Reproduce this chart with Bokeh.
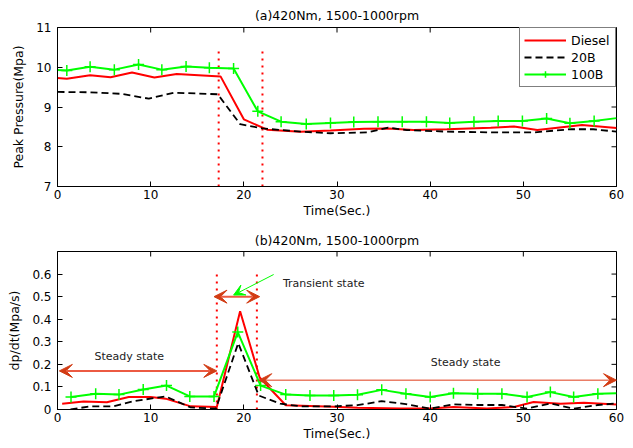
import math
from bokeh.plotting import figure
from bokeh.models import Range1d, FixedTicker, Arrow, VeeHead, Label, Legend, LegendItem
from bokeh.layouts import column
from bokeh.embed import file_html
from bokeh.resources import INLINE

FONT = "DejaVu Sans"

# ---------------- data: (a) peak pressure ----------------
t_diesel_a = [0, 1.0, 3.5, 5.7, 8.0, 10.4, 12.8, 17.5, 20.0, 22.5, 26.1, 29.3, 32.9, 35.5, 38.2,
              41.8, 46.5, 49.0, 51.5, 56.3, 60]
p_diesel_a = [9.73, 9.71, 9.80, 9.75, 9.87, 9.74, 9.83, 9.77, 8.69, 8.43, 8.38, 8.41, 8.45, 8.46, 8.42,
              8.44, 8.48, 8.51, 8.42, 8.55, 8.47]

t_20b_a = [0, 3.5, 6.9, 9.8, 12.5, 17.2, 19.6, 22.0, 26.1, 29.3, 33.2, 35.5, 37.5, 41.8, 47.2,
           51.1, 55.0, 57.5, 60]
p_20b_a = [9.38, 9.37, 9.33, 9.21, 9.36, 9.32, 8.57, 8.46, 8.38, 8.34, 8.36, 8.48, 8.42, 8.38, 8.36,
           8.36, 8.44, 8.44, 8.38]

t_100b_a = [0, 1.0, 3.5, 6.1, 8.7, 11.2, 13.8, 16.3, 18.9, 21.5, 24.0, 26.7, 29.3, 31.8, 34.4, 37.0,
            39.6, 42.1, 44.7, 47.3, 49.9, 52.5, 55.0, 57.6, 60]
p_100b_a = [9.93, 9.92, 10.01, 9.94, 10.07, 9.94, 10.02, 9.99, 9.97, 8.89, 8.63, 8.57, 8.60, 8.62, 8.63, 8.63,
            8.63, 8.60, 8.63, 8.65, 8.65, 8.71, 8.59, 8.65, 8.72]

# ---------------- data: (b) dp/dt ----------------
t_diesel_b = [0.5, 2.8, 5.3, 7.65, 10.0, 11.6, 14.3, 17.1, 19.6, 21.7, 24.5, 29.65, 32.2, 36.8, 40.0,
              42.5, 46.1, 49.0, 51.1, 54.0, 56.5, 60]
v_diesel_b = [0.026, 0.035, 0.032, 0.055, 0.055, 0.048, 0.014, 0.011, 0.435, 0.142, 0.019, 0.012, 0.008,
              0.004, 0.004, 0.011, 0.004, 0.011, 0.033, 0.026, 0.030, 0.022]

t_20b_b = [1.4, 3.5, 6.0, 8.2, 11.6, 14.3, 17.0, 19.4, 21.6, 23.9, 26.1, 29.65, 32.2, 34.8, 37.4, 40.0,
           42.5, 45.1, 47.7, 50.4, 52.9, 55.4, 58.0, 60]
v_20b_b = [0.0, 0.014, 0.014, 0.037, 0.058, 0.009, 0.004, 0.294, 0.062, 0.026, 0.014, 0.014, 0.019, 0.037,
           0.024, 0.004, 0.023, 0.020, 0.020, 0.004, 0.027, 0.004, 0.020, 0.027]

t_100b_b = [1.45, 4.1, 6.6, 9.2, 11.7, 14.2, 16.8, 19.35, 21.8, 24.5, 27.1, 29.65, 32.2, 34.8, 37.4, 40.0,
            42.5, 45.1, 47.7, 50.4, 52.9, 55.4, 58.0, 60]
v_100b_b = [0.055, 0.070, 0.066, 0.089, 0.106, 0.058, 0.058, 0.343, 0.106, 0.066, 0.062, 0.062, 0.065,
            0.087, 0.070, 0.055, 0.072, 0.070, 0.070, 0.055, 0.077, 0.055, 0.070, 0.072]

# ---------------- axes / ticks / annotations ----------------
x_ticks = [0, 10, 20, 30, 40, 50, 60]
y_ticks_a = [7, 8, 9, 10, 11]
y_ticks_b = [0, 0.1, 0.2, 0.3, 0.4, 0.5, 0.6]
x_lim = (0, 60)
y_lim_a = (7, 11)
y_lim_b = (0, 0.7)

vline_x_a = [17.3, 22.0]
vline_y_a = [7, 10.5]
vline_x_b = [17.1, 21.4]
vline_y_b = [0, 0.6]

title_a = "(a)420Nm, 1500-1000rpm"
title_b = "(b)420Nm, 1500-1000rpm"

RED = "#ff0000"
GREEN = "#00ff00"
ARROW_LINE = "#ec5a42"
ARROW_HEAD = "#d23c14"


def make_fig(height, b_top, b_bottom, title, title_standoff, yr, yticks, ylabel):
    p = figure(width=625, height=height, output_backend="svg", toolbar_location=None,
               x_range=Range1d(*x_lim), y_range=Range1d(*yr),
               min_border_left=57, min_border_right=9,
               min_border_top=b_top, min_border_bottom=b_bottom,
               title=title, background_fill_color="white", border_fill_color="white")
    p.title.text_font = FONT
    p.title.text_font_size = "12.5px"
    p.title.text_font_style = "normal"
    p.title.text_color = "black"
    p.title.align = "center"
    p.title.standoff = title_standoff
    p.grid.visible = False
    p.outline_line_color = "black"
    p.outline_line_alpha = 1.0
    p.outline_line_width = 1

    p.xaxis.ticker = FixedTicker(ticks=x_ticks)
    p.yaxis.ticker = FixedTicker(ticks=yticks)
    p.xaxis.axis_label = "Time(Sec.)"
    p.yaxis.axis_label = ylabel
    for ax in p.axis:
        ax.major_tick_in = 5
        ax.major_tick_out = 0
        ax.minor_tick_line_color = None
        ax.axis_line_color = "black"
        ax.major_tick_line_color = "black"
        ax.major_label_text_font = FONT
        ax.major_label_text_font_size = "12px"
        ax.major_label_text_color = "black"
        ax.axis_label_text_font = FONT
        ax.axis_label_text_font_size = "12.5px"
        ax.axis_label_text_font_style = "normal"
        ax.axis_label_text_color = "black"
    p.xaxis.major_label_standoff = 3
    p.xaxis.axis_label_standoff = 1
    p.yaxis.major_label_standoff = 6
    p.yaxis.axis_label_standoff = 7

    # inward ticks on the top and right edges of the box
    p.ray(x=x_ticks, y=[yr[1]] * len(x_ticks), length=5, length_units="screen",
          angle=-math.pi / 2, line_color="black", line_width=1)
    p.ray(x=[x_lim[1]] * len(yticks), y=yticks, length=5, length_units="screen",
          angle=math.pi, line_color="black", line_width=1)
    return p


# ---------------- figure (a) ----------------
pa = make_fig(226, 26, 40, title_a, 10, y_lim_a, y_ticks_a, "Peak Pressure(Mpa)")
for xv in vline_x_a:
    pa.segment(x0=[xv], y0=[vline_y_a[0]], x1=[xv], y1=[vline_y_a[1]],
               line_color=RED, line_width=2, line_dash="2 5")
r_d = pa.line(t_diesel_a, p_diesel_a, line_color=RED, line_width=2)
r_20 = pa.line(t_20b_a, p_20b_a, line_color="black", line_width=1.8, line_dash="7 4")
r_100 = pa.line(t_100b_a, p_100b_a, line_color=GREEN, line_width=2)
r_100m = pa.scatter(t_100b_a[1:-1], p_100b_a[1:-1], marker="cross", size=11,
                    line_color=GREEN, line_width=1.5)

legend = Legend(items=[LegendItem(label="Diesel", renderers=[r_d]),
                       LegendItem(label="20B", renderers=[r_20]),
                       LegendItem(label="100B", renderers=[r_100, r_100m])],
                location="top_right", margin=0, padding=4, spacing=1,
                glyph_width=42, glyph_height=16, label_height=16, label_width=40, label_standoff=5,
                label_text_font=FONT, label_text_font_size="12.5px", label_text_color="black",
                border_line_color="black", border_line_width=1, background_fill_alpha=1)
pa.add_layout(legend)

# ---------------- figure (b) ----------------
pb = make_fig(221, 23, 38, title_b, 8, y_lim_b, y_ticks_b, "dp/dt(Mpa/s)")
for xv in vline_x_b:
    pb.segment(x0=[xv], y0=[vline_y_b[0]], x1=[xv], y1=[vline_y_b[1]],
               line_color=RED, line_width=2, line_dash="2 5")
pb.line(t_diesel_b, v_diesel_b, line_color=RED, line_width=2)
pb.line(t_20b_b, v_20b_b, line_color="black", line_width=1.8, line_dash="7 4")
pb.line(t_100b_b, v_100b_b, line_color=GREEN, line_width=2)
pb.scatter(t_100b_b[:-1], v_100b_b[:-1], marker="cross", size=11, line_color=GREEN, line_width=1.5)

steady_left = dict(x_start=0.2, x_end=17.1, y=0.171)
transient = dict(x_start=16.8, x_end=21.7, y=0.50)
steady_right = dict(x_start=21.6, x_end=60.0, y=0.13)
green_ptr = dict(x_start=23.2, y_start=0.598, x_end=18.9, y_end=0.507)


def head(color, size=13):
    return VeeHead(size=size, fill_color=color, line_color=color)


pb.add_layout(Arrow(start=head(ARROW_HEAD), end=head(ARROW_HEAD),
                    x_start=steady_left["x_start"], y_start=steady_left["y"],
                    x_end=steady_left["x_end"], y_end=steady_left["y"],
                    line_color=ARROW_LINE, line_width=2))
pb.add_layout(Arrow(start=head(ARROW_HEAD), end=head(ARROW_HEAD),
                    x_start=transient["x_start"], y_start=transient["y"],
                    x_end=transient["x_end"], y_end=transient["y"],
                    line_color=ARROW_LINE, line_width=2))
pb.add_layout(Arrow(start=head(ARROW_HEAD), end=head(ARROW_HEAD),
                    x_start=steady_right["x_start"], y_start=steady_right["y"],
                    x_end=steady_right["x_end"], y_end=steady_right["y"],
                    line_color="#e03a18", line_width=1))
pb.add_layout(Arrow(end=head(GREEN, 11),
                    x_start=green_ptr["x_start"], y_start=green_ptr["y_start"],
                    x_end=green_ptr["x_end"], y_end=green_ptr["y_end"],
                    line_color=GREEN, line_width=1))

labels_b = [("Steady state", 7.7, 0.236, "center"),
            ("Transient state", 24.2, 0.56, "left"),
            ("Steady state", 43.8, 0.207, "center")]
for txt, lx, ly, al in labels_b:
    pb.add_layout(Label(x=lx, y=ly, text=txt, text_align=al, text_baseline="middle",
                        text_font=FONT, text_font_size="11px", text_color="#222222"))

layout = column(pa, pb, spacing=0)
open("out.html", "w").write(file_html(layout, INLINE))
